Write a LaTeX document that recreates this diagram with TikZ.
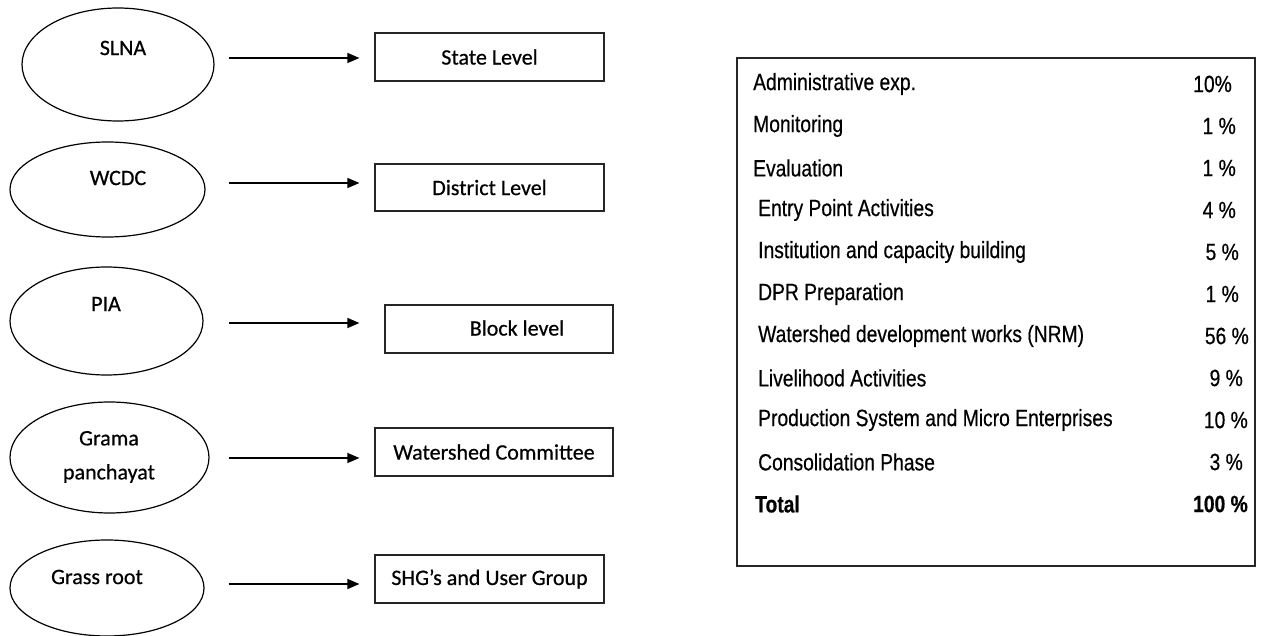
\documentclass[tikz,border=0pt]{standalone}
\usepackage{fontspec}
\setmainfont{Carlito}[FakeBold=0.6]
\newfontfamily\leftfont[FakeBold=0.6]{Carlito}
\newfontfamily\narrowfont[FakeStretch=0.82,FakeBold=0.5]{Liberation Sans}
\usetikzlibrary{shapes.geometric,arrows.meta}
\begin{document}
\begin{tikzpicture}[x=1pt,y=-1pt,
  ell/.style={draw, line width=1.2pt, ellipse, inner sep=0pt},
  lvl/.style={draw=black!85, line width=1.2pt, rectangle, inner sep=0pt, font=\leftfont\fontsize{22}{26}\selectfont},
  lab/.style={font=\leftfont\fontsize{22}{26}\selectfont, inner sep=0pt, align=center},
  arr/.style={line width=1.4pt, -{Triangle[length=12pt,width=10pt]}},
  rowtxt/.style={font=\narrowfont\fontsize{23.5}{27}\selectfont, anchor=west, inner sep=0pt},
  pct/.style={font=\narrowfont\fontsize{23.5}{27}\selectfont, anchor=east, inner sep=0pt},
  rowbold/.style={font=\narrowfont\bfseries\fontsize{23.5}{27}\selectfont, inner sep=0pt}]
\useasboundingbox (0,0) rectangle (1262,636);

% ellipses
\node[ell, minimum width=192pt, minimum height=113pt] (e1) at (118,64.5) {};
\node[ell, minimum width=195pt, minimum height=95pt] (e2) at (107.5,189.5) {};
\node[ell, minimum width=193pt, minimum height=108pt] (e3) at (106.5,321) {};
\node[ell, minimum width=199pt, minimum height=111pt] (e4) at (109.5,457.5) {};
\node[ell, minimum width=194pt, minimum height=96pt] (e5) at (107,588) {};

\node[lab] (t1) at (123,48) {SLNA};
\node[lab] (t2) at (118,178) {WCDC};
\node[lab] (t3) at (106,304) {PIA};
\node[lab, align=center, font=\leftfont\fontsize{22}{34}\selectfont] (t4) at (109,457) {Grama\\panchayat};
\node[lab] (t5) at (97,577) {Grass root};

% level boxes
\node[lvl, minimum width=229pt, minimum height=48pt] (b1) at (489.5,57) {State Level};
\node[lvl, minimum width=229pt, minimum height=47pt] (b2) at (489.5,187.5) {District Level};
\node[lvl, minimum width=228pt, minimum height=48pt] (b3) at (499,329) {};
\node[lab] (t6) at (517,328) {Block level};
\node[lvl, minimum width=238pt, minimum height=48pt] (b4) at (494,452) {Watershed Committee};
\node[lvl, minimum width=229pt, minimum height=48pt] (b5) at (489.5,579) {SHG’s and User Group};

% arrow heights
\coordinate (y1) at (0,58);
\coordinate (y2) at (0,183);
\coordinate (y3) at (0,323);
\coordinate (y4) at (0,458);
\coordinate (y5) at (0,584);

\draw[arr, shorten <=14pt, shorten >=15pt] (e1.east |- y1) -- (b1.west |- y1);
\draw[arr, shorten <=23pt, shorten >=15pt] (e2.east |- y2) -- (b2.west |- y2);
\draw[arr, shorten <=25pt, shorten >=25pt] (e3.east |- y3) -- (b3.west |- y3);
\draw[arr, shorten <=19pt, shorten >=15pt] (e4.east |- y4) -- (b4.west |- y4);
\draw[arr, shorten <=24pt, shorten >=15pt] (e5.east |- y5) -- (b5.west |- y5);

% table
\node[draw=black!85, line width=1.2pt, minimum width=518pt, minimum height=508pt, inner sep=0pt] (tbl) at (996,312) {};

\node[rowtxt] (r0) at (753,84) {Administrative exp.};
\node[rowtxt] (r1) at (753,126) {Monitoring};
\node[rowtxt] (r2) at (753,168) {Evaluation};
\node[rowtxt] (r3) at (758,210) {Entry Point Activities};
\node[rowtxt] (r4) at (758,252) {Institution and capacity building};
\node[rowtxt] (r5) at (758,294) {DPR Preparation};
\node[rowtxt] (r6) at (758,336) {Watershed development works (NRM)};
\node[rowtxt] (r7) at (758,378) {Livelihood Activities};
\node[rowtxt] (r8) at (758,420) {Production System and Micro Enterprises};
\node[rowtxt] (r9) at (758,462) {Consolidation Phase};
\node[rowbold, anchor=west] (r10) at (755,504) {Total};

\node[pct] (p0) at (1232,84) {10\%};
\node[pct] (p1) at (1236,126) {1 \%};
\node[pct] (p2) at (1236,168) {1 \%};
\node[pct] (p3) at (1236,210) {4 \%};
\node[pct] (p4) at (1239,252) {5 \%};
\node[pct] (p5) at (1239,294) {1 \%};
\node[pct] (p6) at (1249,336) {56 \%};
\node[pct] (p7) at (1243,378) {9 \%};
\node[pct] (p8) at (1248,420) {10 \%};
\node[pct] (p9) at (1243,462) {3 \%};
\node[rowbold, anchor=east] (p10) at (1248,504) {100 \%};
\end{tikzpicture}
\end{document}
